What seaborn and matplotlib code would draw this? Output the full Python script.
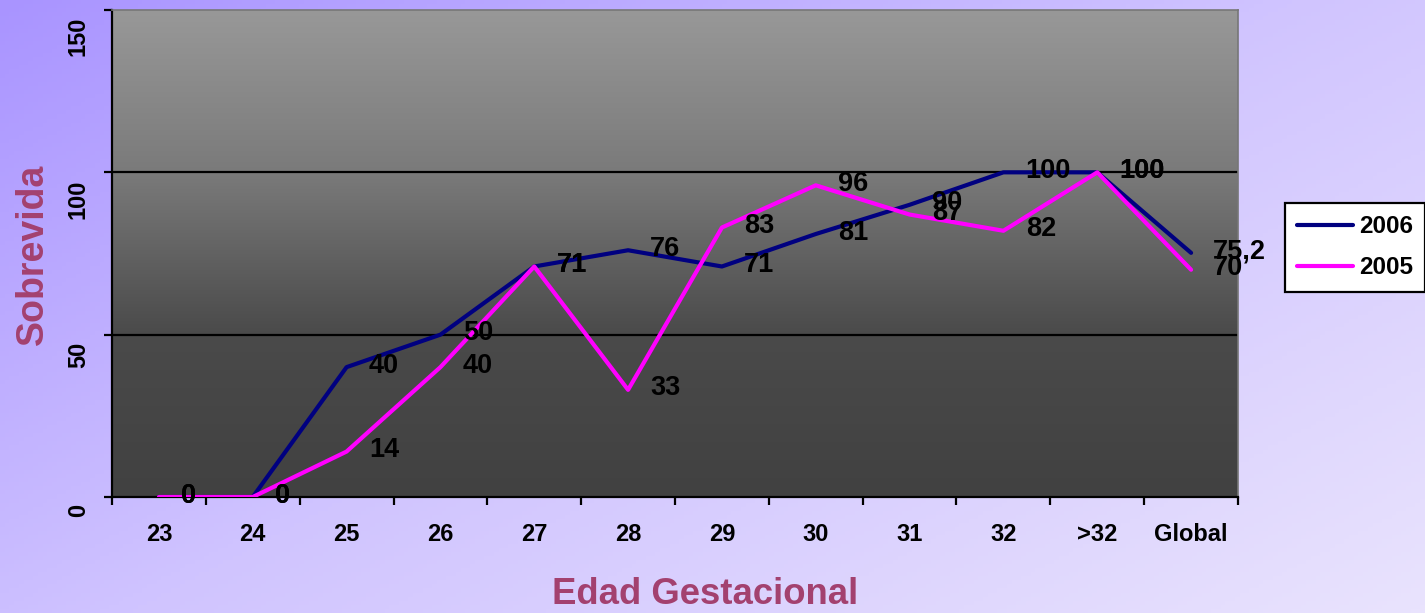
import numpy as np
import pandas as pd
import matplotlib
matplotlib.use("Agg")
import matplotlib.pyplot as plt
from matplotlib.colors import LinearSegmentedColormap
from matplotlib.transforms import ScaledTranslation
from matplotlib.ticker import FixedLocator
import seaborn as sns

categories = ["23", "24", "25", "26", "27", "28", "29", "30", "31", "32", ">32", "Global"]
values_2006 = [0, 0, 40, 50, 71, 76, 71, 81, 90, 100, 100, 75.2]
values_2005 = [0, 0, 14, 40, 71, 33, 83, 96, 87, 82, 100, 70]
series_names = ["2006", "2005"]
yticks = [0, 50, 100, 150]

sns.set_theme(style="white")
plt.rcParams["font.family"] = ["Liberation Sans", "DejaVu Sans"]
plt.rcParams["text.color"] = "black"
plt.rcParams["xtick.color"] = "black"
plt.rcParams["ytick.color"] = "black"

df = pd.DataFrame({
    "Edad": categories * 2,
    "Sobrevida": values_2006 + values_2005,
    "Serie": [series_names[0]] * len(categories) + [series_names[1]] * len(categories),
})

fig = plt.figure(figsize=(14.25, 6.13), dpi=100)

# figure background gradient
bg = fig.add_axes([0, 0, 1, 1], zorder=-10)
xx, yy = np.meshgrid(np.linspace(0, 1, 300), np.linspace(0, 1, 150))
t = 0.55 * xx + 0.45 * yy
bg_cmap = LinearSegmentedColormap.from_list("bg", ["#a994ff", "#d0c4ff", "#e9e3fd"])
bg.imshow(t, cmap=bg_cmap, aspect="auto", extent=[0, 1, 0, 1], origin="upper")
bg.set_axis_off()

ax = fig.add_axes([112 / 1425, 1 - 497 / 613, (1238 - 112) / 1425, (497 - 10) / 613])

# plot area gradient
pa_cmap = LinearSegmentedColormap.from_list("pa", ["#414141", "#4a4a4a", "#7a7a7a", "#989898"])
grad = np.linspace(0, 1, 256).reshape(-1, 1)
ax.imshow(grad, cmap=pa_cmap, aspect="auto", origin="lower",
          extent=[-0.5, len(categories) - 0.5, 0, 150], zorder=0)

sns.lineplot(data=df, x="Edad", y="Sobrevida", hue="Serie", sort=False,
             palette={"2006": "#000080", "2005": "#ff00ff"}, linewidth=3,
             ax=ax, zorder=3, legend=True)

ax.set_xlim(-0.5, len(categories) - 0.5)
ax.set_ylim(0, 150)

for yv in [50, 100]:
    ax.axhline(yv, color="black", lw=1.6, zorder=2)

# data labels
for vals in [values_2006, values_2005]:
    for i, v in enumerate(vals):
        lab = f"{v:g}".replace(".", ",")
        ax.annotate(lab, (i, v), xytext=(16, 1), textcoords="offset points",
                    ha="left", va="center", fontsize=19.5, fontweight="bold",
                    color="black", zorder=5)

ax.set_xlabel("")
ax.set_ylabel("")
ax.set_xticks(range(len(categories)))
ax.set_xticklabels(categories)
ax.xaxis.set_minor_locator(FixedLocator(np.arange(-0.5, len(categories), 1)))
ax.tick_params(axis="x", which="major", length=0, pad=19, labelsize=17)
ax.tick_params(axis="x", which="minor", length=6, width=1.6, direction="out", color="black", bottom=True)
for lab in ax.get_xticklabels():
    lab.set_fontweight("bold")

ax.set_yticks(yticks)
ax.set_yticklabels([str(v) for v in yticks])
ax.tick_params(axis="y", which="major", length=6, width=1.6, direction="out", color="black",
               left=True, pad=10, labelsize=17)
off = ScaledTranslation(0, -7 / 100, fig.dpi_scale_trans)
for lab in ax.get_yticklabels():
    lab.set_rotation(90)
    lab.set_va("top")
    lab.set_fontweight("bold")
    lab.set_transform(lab.get_transform() + off)

for side in ["left", "bottom"]:
    ax.spines[side].set_color("black")
    ax.spines[side].set_linewidth(1.6)
for side in ["top", "right"]:
    ax.spines[side].set_color("#777777")
    ax.spines[side].set_linewidth(1.2)

handles, labels = ax.get_legend_handles_labels()
ax.legend_.remove()
leg = fig.legend(handles, labels, loc="upper left", bbox_to_anchor=(1285 / 1425, 1 - 203 / 613),
                 bbox_transform=fig.transFigure, frameon=True, fancybox=False, borderaxespad=0,
                 edgecolor="black", facecolor="white", framealpha=1,
                 prop={"size": 17.5, "weight": "bold"}, handlelength=2.3,
                 borderpad=0.5, labelspacing=0.75, handletextpad=0.25)
leg.get_frame().set_linewidth(1.6)
for h in leg.legend_handles:
    h.set_linewidth(3)

fig.text(33 / 1425, 1 - 254 / 613, "Sobrevida", rotation=90, ha="center", va="center",
         fontsize=27, fontweight="bold", color="#a3416f")
fig.text(705 / 1425, 1 - 595 / 613, "Edad Gestacional", ha="center", va="center",
         fontsize=26.3, fontweight="bold", color="#a3416f")

fig.savefig("out.png", dpi=100)
